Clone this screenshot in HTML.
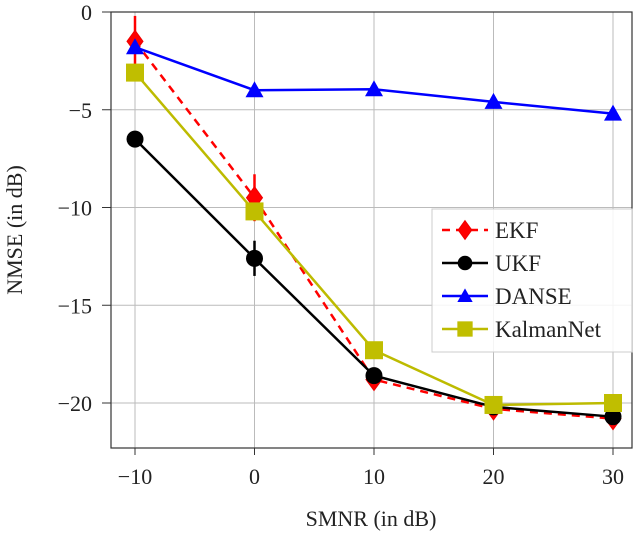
<!DOCTYPE html>
<html><head><meta charset="utf-8"><style>
body{margin:0;background:#fff;}
svg text{font-family:"Liberation Serif",serif;fill:#222;}
</style></head><body>
<svg width="640" height="533">
<g id="grid"></g>
<g id="series"></g>
<rect x="111" y="12" width="521" height="436" fill="none" stroke="#333" stroke-width="1.2"/>
<g id="ticks"></g>
<text x="371" y="526" font-size="22" text-anchor="middle">SMNR (in dB)</text>
<text transform="translate(22,230) rotate(-90)" font-size="22" text-anchor="middle">NMSE (in dB)</text>
<g>
<rect x="432" y="209" width="200" height="143" fill="#fff" fill-opacity="0.85" stroke="#ccc"/>
<g id="legend"></g>
</g>
</svg>
<script>
const xs=[-10,0,10,20,30];
const ekf=[-1.5,-9.5,-18.8,-20.3,-20.8];
const ukf=[-6.5,-12.6,-18.6,-20.2,-20.7];
const danse=[-1.8,-4.0,-3.95,-4.6,-5.2];
const knet=[-3.1,-10.2,-17.3,-20.1,-20.0];
const xTicks=[-10,0,10,20,30];
const yTicks=[0,-5,-10,-15,-20];
const names=["EKF","UKF","DANSE","KalmanNet"];
const NS="http://www.w3.org/2000/svg";
const X=v=>135+(v+10)*11.95;
const Y=v=>12-v*19.55;
function mk(t,a,p){const e=document.createElementNS(NS,t);for(const k in a)e.setAttribute(k,a[k]);p.appendChild(e);return e;}
const grid=document.getElementById('grid'),ticks=document.getElementById('ticks'),ser=document.getElementById('series'),leg=document.getElementById('legend');
xTicks.forEach(v=>{
 const l=mk('line',{x1:X(v),x2:X(v),y1:12,y2:448,stroke:'#bbb'},grid);
 
 mk('line',{x1:X(v),x2:X(v),y1:448,y2:455,stroke:'#333'},ticks);
 const t=mk('text',{x:X(v),y:484,'font-size':22,'text-anchor':'middle'},ticks);t.textContent=(v<0?'\u2212'+(-v):v);
 
});
yTicks.forEach(v=>{
 const l=mk('line',{x1:111,x2:632,y1:Y(v),y2:Y(v),stroke:'#bbb'},grid);
 
 mk('line',{x1:102,x2:111,y1:Y(v),y2:Y(v),stroke:'#333'},ticks);
 const t=mk('text',{x:92,y:Y(v)+8,'font-size':22,'text-anchor':'end'},ticks);t.textContent=(v<0?'\u2212'+(-v):v);
 
});
function marker(type,x,y,col,p,s){
 s=s||1;
 if(type==='d') return mk('polygon',{points:`${x},${y-11*s} ${x+8*s},${y} ${x},${y+11*s} ${x-8*s},${y}`,fill:col,stroke:'#e00'},p);
 if(type==='c') return mk('circle',{cx:x,cy:y,r:8*s,fill:'#000',stroke:'#000'},p);
 if(type==='t') return mk('polygon',{points:`${x},${y-9*s} ${x+9*s},${y+7*s} ${x-9*s},${y+7*s}`,fill:'#00f'},p);
 return mk('rect',{x:x-9*s,y:y-9*s,width:18*s,height:18*s,fill:'#c0be00'},p);
}
[[0,1.3],[1,1.2]].forEach(([i,e])=>{const l=mk('line',{x1:X(xs[i]),x2:X(xs[i]),y1:Y(ekf[i]+e),y2:Y(ekf[i]-e),stroke:'#f00','stroke-width':2.5},ser);});
{const l=mk('line',{x1:X(0),x2:X(0),y1:Y(ukf[1]+0.9),y2:Y(ukf[1]-0.9),stroke:'#000','stroke-width':2.5},ser);}
const S=[
 {n:'ekf',d:ekf,c:'#f00',m:'d',dash:'8,6'},
 {n:'ukf',d:ukf,c:'#000',m:'c'},
 {n:'danse',d:danse,c:'#00f',m:'t'},
 {n:'kalmannet',d:knet,c:'#bdbb00',m:'s'}];
[S[0],S[2],S[1],S[3]].forEach(s=>{
 const pl=mk('polyline',{points:xs.map((x,i)=>X(x)+','+Y(s.d[i])).join(' '),fill:'none',stroke:s.c,'stroke-width':2.5,'stroke-dasharray':s.dash||''},ser);
 
 xs.forEach((x,i)=>{const m=marker(s.m,X(x),Y(s.d[i]),s.c,ser);});
});
S.forEach((s,i)=>{
 const y=230+i*33;
 mk('line',{x1:442,x2:488,y1:y,y2:y,stroke:s.c,'stroke-width':2.5,'stroke-dasharray':s.dash||''},leg);
 marker(s.m,465,y,s.c,leg,0.85);
 const t=mk('text',{x:495,y:y+8,'font-size':23},leg);t.textContent=names[i];
 
});
</script>
</body></html>
